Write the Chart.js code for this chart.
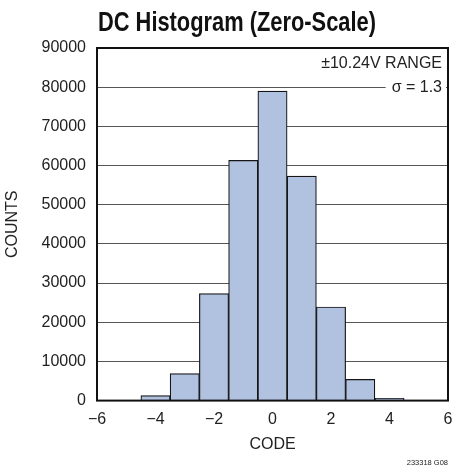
<!DOCTYPE html>
<html>
<head>
<meta charset="utf-8">
<script src="https://cdn.jsdelivr.net/npm/chart.js@4/dist/chart.umd.min.js"></script>
<style>
  html, body { margin: 0; padding: 0; background: #fff; }
  #wrap { width: 454px; height: 469px; }
</style>
</head>
<body>
<div id="wrap"><canvas id="grafico" width="454" height="469"></canvas></div>
<script>
// =======================
// DATOS
// =======================
const codigos = [-4, -3, -2, -1, 0, 1, 2, 3, 4];
const cuentas = [1300, 6900, 27300, 61300, 79000, 57300, 23900, 5400, 600];
const ticksX = [-6, -4, -2, 0, 2, 4, 6];
const ticksY = [0, 10000, 20000, 30000, 40000, 50000, 60000, 70000, 80000, 90000];
const titulo = "DC Histogram (Zero-Scale)";
const notas = ["\u00b110.24V RANGE", "\u03c3 = 1.3"];
const codigoFigura = "233318 G08";

const FUENTE = "'Liberation Sans', Arial, sans-serif";

// titulo condensado (no hay fuente narrow instalada)
const tituloPlugin = {
  id: "tituloCondensado",
  afterDraw(chart) {
    const { ctx, chartArea: a } = chart;
    ctx.save();
    ctx.font = "bold 28px " + FUENTE;
    ctx.fillStyle = "#111";
    ctx.textAlign = "left";
    ctx.textBaseline = "alphabetic";
    ctx.translate(a.left + 1, 30.5);
    ctx.scale(0.78, 1);
    ctx.fillText(titulo, 0, 0);
    ctx.restore();
  }
};

// marco + notas
const marcoPlugin = {
  id: "marco",
  afterDatasetsDraw(chart) {
    const { ctx, chartArea: a } = chart;
    ctx.save();

    ctx.font = "16px " + FUENTE;
    ctx.textAlign = "right";
    ctx.textBaseline = "middle";
    const yNota2 = chart.scales.y.getPixelForValue(80000);
    const yNota1 = yNota2 - 24;
    const w2 = ctx.measureText(notas[1]).width;
    ctx.fillStyle = "#fff";
    ctx.fillRect(a.right - 6 - w2 - 6, yNota2 - 9, w2 + 10, 18);
    ctx.fillStyle = "#222";
    ctx.fillText(notas[0], a.right - 6, yNota1);
    ctx.fillText(notas[1], a.right - 6, yNota2);

    // marco
    ctx.strokeStyle = "#111";
    ctx.lineWidth = 2;
    ctx.strokeRect(a.left, a.top, a.right - a.left, a.bottom - a.top);
    ctx.restore();
  }
};

new Chart(document.getElementById("grafico"), {
  type: "bar",
  data: {
    datasets: [{
      data: codigos.map((c, i) => ({ x: c, y: cuentas[i] })),
      backgroundColor: "#b1c2e0",
      borderColor: "#151515",
      borderWidth: 1.2,
      barPercentage: 1,
      categoryPercentage: 1
    }]
  },
  options: {
    responsive: false,
    animation: false,
    devicePixelRatio: 1,
    layout: { padding: { left: 0, right: 6, top: 48, bottom: 2 } },
    plugins: {
      legend: { display: false },
      tooltip: { enabled: false },
      title: { display: false },
      subtitle: {
        display: true,
        text: codigoFigura,
        position: "bottom",
        align: "end",
        fullSize: false,
        color: "#222",
        font: { family: FUENTE, size: 7.5, lineHeight: 1.2 },
        padding: 0
      }
    },
    scales: {
      x: {
        type: "linear",
        offset: false,
        min: -6,
        max: 6,
        afterBuildTicks: s => { s.ticks = ticksX.map(v => ({ value: v })); },
        afterFit: s => {
          s.height = 57.4;
          s.paddingLeft = 0;
          s.paddingRight = 0;
        },
        grid: { display: false, drawTicks: false, offset: false },
        border: { display: false },
        ticks: {
          padding: 9,
          color: "#222",
          font: { family: FUENTE, size: 16 },
          callback: v => String(v).replace("-", "\u2212")
        },
        title: {
          display: true,
          text: "CODE",
          color: "#222",
          font: { family: FUENTE, size: 16, lineHeight: 1.2 },
          padding: { top: 0, bottom: 3.5 }
        }
      },
      y: {
        min: 0,
        max: 90000,
        afterBuildTicks: s => { s.ticks = ticksY.map(v => ({ value: v })); },
        afterFit: s => { s.width = 97; },
        grid: { color: "#555", lineWidth: 1, drawTicks: false },
        border: { display: false },
        ticks: {
          padding: 11,
          color: "#222",
          font: { family: FUENTE, size: 16 },
          callback: v => String(v)
        },
        title: {
          display: true,
          text: "COUNTS",
          color: "#222",
          font: { family: FUENTE, size: 16, lineHeight: 1.2 },
          padding: { top: 3, bottom: 0 }
        }
      }
    }
  },
  plugins: [marcoPlugin, tituloPlugin]
});
</script>
</body>
</html>
